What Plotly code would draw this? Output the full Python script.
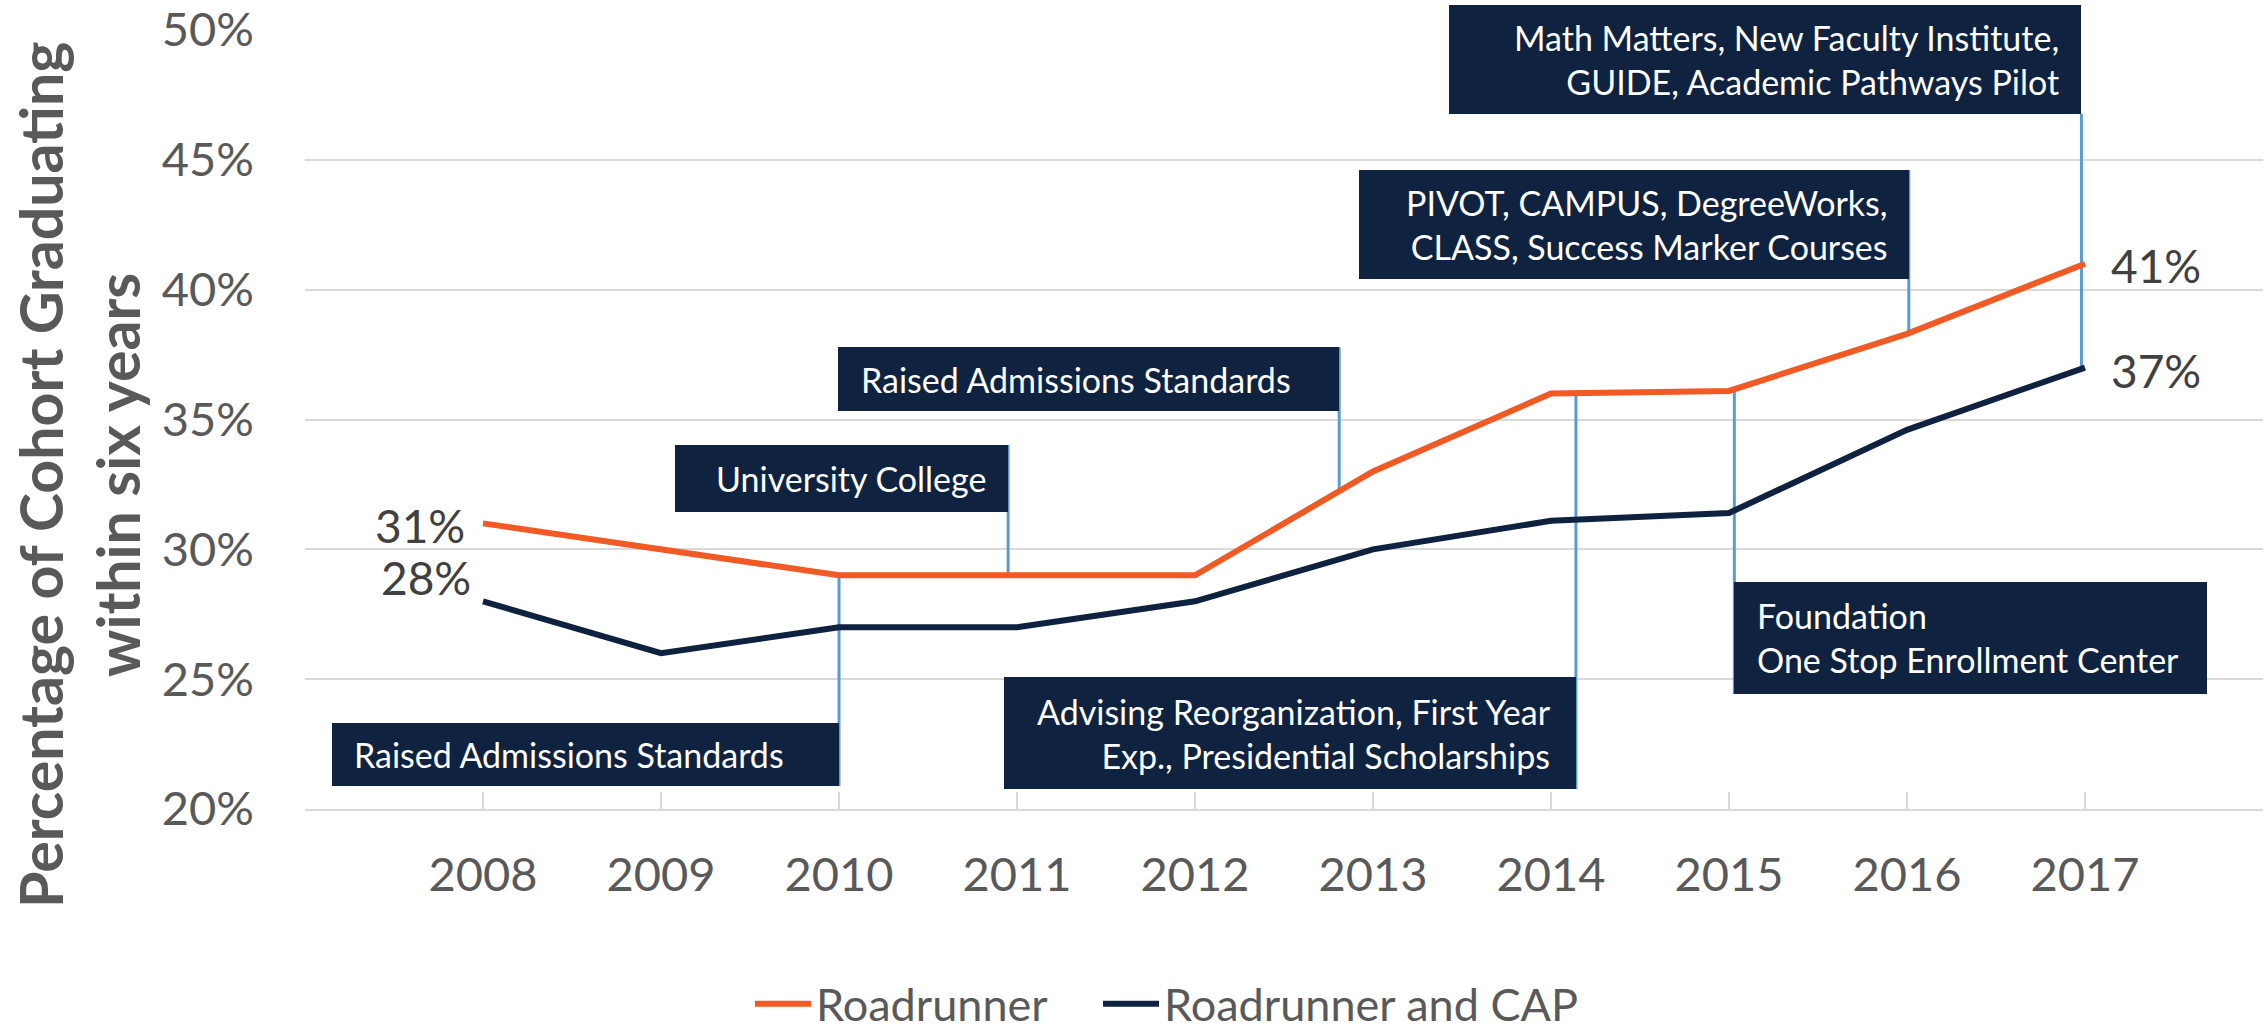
import numpy as np
import plotly.graph_objects as go

# ---------------- data ----------------
years = [2008, 2009, 2010, 2011, 2012, 2013, 2014, 2015, 2016, 2017]
roadrunner = [31, 30, 29, 29, 29, 33, 36, 36.1, 38.3, 41]
roadrunner_cap = [28, 26, 27, 27, 28, 30, 31.1, 31.4, 34.6, 37]
series_names = ["Roadrunner", "Roadrunner and CAP"]

y_tick_values = [20, 25, 30, 35, 40, 45, 50]
y_tick_labels = ["20%", "25%", "30%", "35%", "40%", "45%", "50%"]
x_tick_values = [2007, 2008, 2009, 2010, 2011, 2012, 2013, 2014, 2015, 2016, 2017, 2018]
x_tick_labels = [""] + [str(y) for y in years] + [""]

milestone_texts = [
    ["Raised Admissions Standards"],
    ["University College"],
    ["Raised Admissions Standards"],
    ["Advising Reorganization, First Year", "Exp., Presidential Scholarships"],
    ["Foundation", "One Stop Enrollment Center"],
    ["PIVOT, CAMPUS, DegreeWorks,", "CLASS, Success Marker Courses"],
    ["Math Matters, New Faculty Institute,", "GUIDE, Academic Pathways Pilot"],
]
milestone_x = [2010.0, 2010.95, 2012.81, 2014.14, 2015.03, 2016.01, 2016.98]
milestone_series = [0, 0, 0, 0, 0, 0, 1]

y_title = "Percentage of Cohort Graduating<br>within six years"

# ---------------- layout / style ----------------
FIG_W, FIG_H = 2265, 1032
M_L, M_R, M_T, M_B = 305, 2, 30, 223

ORANGE = "#F15A24"
NAVY = "#0E213F"
BOX_BG = "#0F2240"
CONNECTOR = "#5B9BD5"
GRID = "#D9D9D9"
TICK_GRAY = "#595959"
LABEL_DARK = "#404040"
FONT = "Lato"

# box geometry: edge_y = data y of the box edge touched by connector
box_layout = [
    dict(edge_y=20.89, anchor="bottom", side="left", w=507, h=63, align="left", pad=20),
    dict(edge_y=34.02, anchor="top", side="left", w=333, h=67, align="left", pad=39),
    dict(edge_y=37.79, anchor="top", side="left", w=501, h=64, align="left", pad=21),
    dict(edge_y=20.77, anchor="bottom", side="left", w=572, h=112, align="right", pad=23),
    dict(edge_y=24.43, anchor="bottom", side="right", w=473, h=112, align="left", pad=21),
    dict(edge_y=44.61, anchor="top", side="left", w=550, h=109, align="right", pad=19),
    dict(edge_y=46.77, anchor="bottom", side="left", w=632, h=109, align="right", pad=20),
]
legend_px_x = [750, 1098]
legend_px_y = 1004

def px_to_paper_x(px):
    return (px - M_L) / (FIG_W - M_L - M_R)

def px_to_paper_y(py):
    return 1 - (py - M_T) / (FIG_H - M_T - M_B)

series_values = [roadrunner, roadrunner_cap]
series_colors = [ORANGE, NAVY]
legend_ids = ["legend", "legend2"]

fig = go.Figure()
for name, vals, col, lg in zip(series_names, series_values, series_colors, legend_ids):
    fig.add_trace(go.Scatter(
        x=years, y=vals, name=name, mode="lines",
        line=dict(color=col, width=6),
        hoverinfo="skip", legend=lg,
    ))

annotations = []
shapes = []

# milestone boxes + connectors
for texts, cx, si, bl in zip(milestone_texts, milestone_x, milestone_series, box_layout):
    w, h = bl["w"], bl["h"]
    annotations.append(dict(
        x=cx, y=bl["edge_y"], xref="x", yref="y",
        xanchor="right" if bl["side"] == "left" else "left",
        yanchor=bl["anchor"],
        text=" ", width=w, height=h, bgcolor=BOX_BG,
        borderwidth=0, borderpad=0, showarrow=False,
    ))
    if bl["side"] == "left":
        xs = (-w + bl["pad"]) if bl["align"] == "left" else -bl["pad"]
    else:
        xs = bl["pad"] if bl["align"] == "left" else (w - bl["pad"])
    annotations.append(dict(
        x=cx, y=bl["edge_y"], xref="x", yref="y",
        xanchor=bl["align"], yanchor="middle", align=bl["align"],
        xshift=xs, yshift=(h / 2 if bl["anchor"] == "bottom" else -h / 2),
        text="<br>".join(texts), showarrow=False,
        font=dict(family=FONT, size=34, color="white"),
    ))
    y_series = float(np.interp(cx, years, series_values[si]))
    shapes.append(dict(
        type="line", xref="x", yref="y", x0=cx, x1=cx,
        y0=bl["edge_y"], y1=y_series,
        line=dict(color=CONNECTOR, width=3), layer="between",
    ))

# end-point data labels
label_specs = [
    (0, 0, "right", -16, -2),
    (1, 0, "right", -10, 24),
    (0, -1, "left", 24, -2),
    (1, -1, "left", 24, -3),
]
for si, idx, xa, xs, ys in label_specs:
    v = series_values[si][idx]
    annotations.append(dict(
        x=years[idx], y=v, xref="x", yref="y",
        text=f"{v:.0f}%", showarrow=False,
        xanchor=xa, yanchor="middle", xshift=xs, yshift=ys,
        font=dict(family=FONT, size=46, color=LABEL_DARK),
    ))

# y-axis title (two lines, rotated)
annotations.append(dict(
    x=px_to_paper_x(79), y=px_to_paper_y(475), xref="paper", yref="paper",
    text=y_title, textangle=-90, showarrow=False,
    xanchor="center", yanchor="middle",
    font=dict(family=FONT, size=59, color=TICK_GRAY, weight=700),
))

legend_style = dict(
    orientation="h", xanchor="left", yanchor="middle",
    font=dict(family=FONT, size=45, color=TICK_GRAY),
    bgcolor="rgba(0,0,0,0)", itemwidth=56, borderwidth=0,
)

fig.update_layout(
    width=FIG_W, height=FIG_H,
    margin=dict(l=M_L, r=M_R, t=M_T, b=M_B, pad=0, autoexpand=False),
    paper_bgcolor="white", plot_bgcolor="white",
    font=dict(family=FONT, color=TICK_GRAY),
    showlegend=True,
    legend=dict(x=px_to_paper_x(legend_px_x[0]), y=px_to_paper_y(legend_px_y), **legend_style),
    legend2=dict(x=px_to_paper_x(legend_px_x[1]), y=px_to_paper_y(legend_px_y), **legend_style),
    xaxis=dict(
        range=[2007, 2018], tickmode="array",
        tickvals=x_tick_values, ticktext=x_tick_labels,
        ticks="inside", ticklen=17, tickwidth=2, tickcolor=GRID,
        showgrid=False, showline=True, linecolor=GRID, linewidth=2,
        zeroline=False, ticklabelstandoff=24, automargin=False,
        tickfont=dict(family=FONT, size=47, color=TICK_GRAY),
    ),
    yaxis=dict(
        range=[20, 50], tickmode="array",
        tickvals=y_tick_values, ticktext=y_tick_labels,
        showgrid=True, gridcolor=GRID, gridwidth=2,
        zeroline=False, showline=False, ticks="",
        ticklabelstandoff=50, automargin=False,
        tickfont=dict(family=FONT, size=47, color=TICK_GRAY),
    ),
    annotations=annotations,
    shapes=shapes,
)

fig.write_html(
    "out.html",
    config={"displayModeBar": False},
    post_script="document.body.style.margin='0';document.body.style.overflow='hidden';",
)
